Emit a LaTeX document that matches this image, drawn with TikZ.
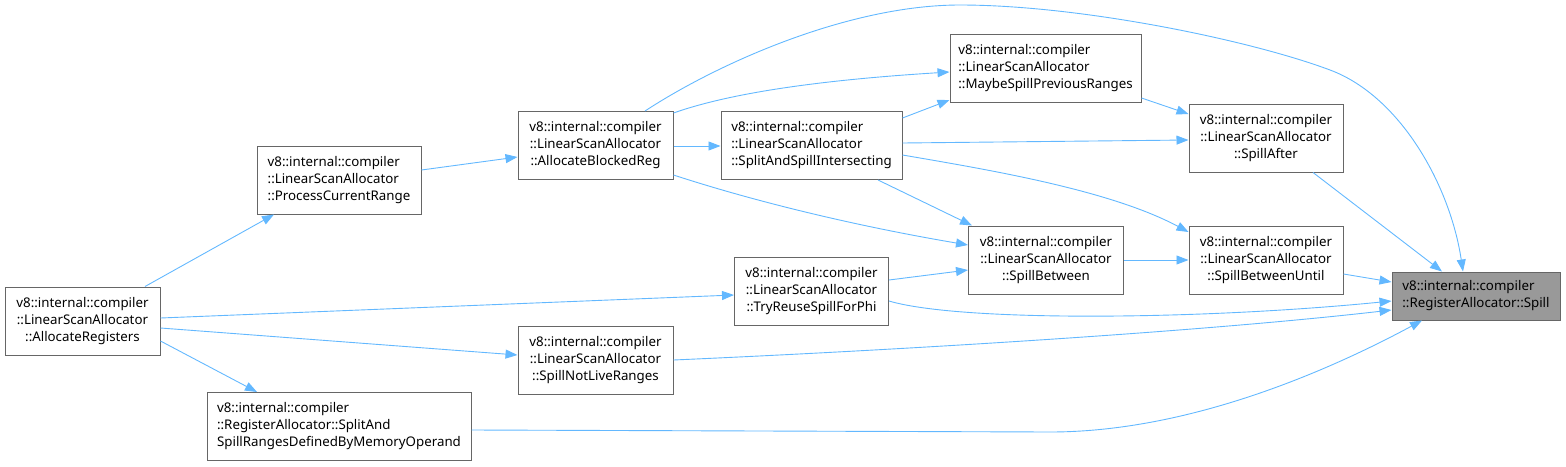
\documentclass[tikz,border=0pt]{standalone}
\usepackage{fontspec}
\setmainfont{Noto Sans}
\usetikzlibrary{arrows.meta}
\definecolor{bd}{HTML}{666666}
\definecolor{tg}{HTML}{999999}
\definecolor{ed}{HTML}{63B8FF}
\begin{document}
\begin{tikzpicture}[x=1pt,y=-1pt,
  box/.style={draw=bd,line width=1pt,fill=white,inner xsep=3pt,inner ysep=0pt,
    font=\fontsize{13.3}{17}\selectfont,text=black},
  edge/.style={draw=ed,line width=0.9pt,-{Triangle[length=12pt,width=9pt]}}]
\useasboundingbox (0,0) rectangle (1566,466);
% nodes
\node[box,fill=tg,align=left,minimum width=168,minimum height=48] (spill) at (1476,296) {v8::internal::compiler\\::RegisterAllocator::Spill};
\node[box,align=center,minimum width=154,minimum height=68] (sa) at (1266,138) {v8::internal::compiler\\::LinearScanAllocator\\::SpillAfter};
\node[box,align=center,minimum width=154,minimum height=68] (sbu) at (1266,260) {v8::internal::compiler\\::LinearScanAllocator\\::SpillBetweenUntil};
\node[box,align=left,minimum width=191,minimum height=68] (msp) at (1045.5,68) {v8::internal::compiler\\::LinearScanAllocator\\::MaybeSpillPreviousRanges};
\node[box,align=left,minimum width=181,minimum height=68] (sasi) at (811.5,145.5) {v8::internal::compiler\\::LinearScanAllocator\\::SplitAndSpillIntersecting};
\node[box,align=center,minimum width=155,minimum height=68] (sb) at (1046,260) {v8::internal::compiler\\::LinearScanAllocator\\::SpillBetween};
\node[box,align=center,minimum width=155,minimum height=68] (abr) at (595.5,145.5) {v8::internal::compiler\\::LinearScanAllocator\\::AllocateBlockedReg};
\node[box,align=center,minimum width=154,minimum height=68] (tr) at (811.5,291) {v8::internal::compiler\\::LinearScanAllocator\\::TryReuseSpillForPhi};
\node[box,align=left,minimum width=164,minimum height=68] (pcr) at (339,180) {v8::internal::compiler\\::LinearScanAllocator\\::ProcessCurrentRange};
\node[box,align=center,minimum width=155,minimum height=68] (ar) at (82.5,321) {v8::internal::compiler\\::LinearScanAllocator\\::AllocateRegisters};
\node[box,align=center,minimum width=155,minimum height=68] (snl) at (595.5,360) {v8::internal::compiler\\::LinearScanAllocator\\::SpillNotLiveRanges};
\node[box,align=left,minimum width=264,minimum height=68] (ssr) at (339,426.5) {v8::internal::compiler\\::RegisterAllocator::SplitAnd\\SpillRangesDefinedByMemoryOperand};
% edges into Spill
\draw[edge] (abr.north -| 645,0) .. controls (720,62) and (850,5) .. (960,5) .. controls (1080,5) and (1250,40) .. (1330,70) .. controls (1400,96) and (1450,185) .. (spill.north -| 1463,0);
\draw[edge] (sa.south -| 1313,0) -- (spill.north -| 1442,0);
\draw[edge] (sbu.east |- 0,274) -- (spill.west |- 0,282);
\draw[edge] (tr.east |- 0,301) .. controls (960,322) and (1200,320) .. (spill.west |- 0,301);
\draw[edge] (snl.east |- 0,360) .. controls (900,350) and (1200,332) .. (spill.west |- 0,310);
\draw[edge] (ssr.east |- 0,430) -- (1050,432) .. controls (1190,432) and (1330,370) .. (spill.south -| 1422,0);
% other edges
\draw[edge] (msp.east |- 0,98) -- (sa.west |- 0,114);
\draw[edge] (sasi.east |- 0,143) -- (sa.west |- 0,140);
\draw[edge] (sasi.east |- 0,155) .. controls (990,170) and (1110,190) .. (sbu.west |- 0,232);
\draw[edge] (sb.east |- 0,260) -- (sbu.west |- 0,260);
\draw[edge] (abr.east |- 0,113) .. controls (730,93) and (820,80) .. (msp.west |- 0,72);
\draw[edge] (sasi.east |- 0,118) -- (msp.west |- 0,100);
\draw[edge] (abr.east |- 0,146) -- (sasi.west |- 0,146);
\draw[edge] (sasi.south -| 878,0) -- (sb.north -| 972,0);
\draw[edge] (abr.east |- 0,175) .. controls (750,200) and (850,225) .. (sb.west |- 0,245);
\draw[edge] (tr.east |- 0,280) -- (sb.west |- 0,270);
\draw[edge] (pcr.east |- 0,170) -- (abr.west |- 0,157);
\draw[edge] (ar.north -| 145,0) -- (pcr.south -| 274,0);
\draw[edge] (ar.east |- 0,318) -- (tr.west |- 0,295);
\draw[edge] (ar.east |- 0,328) -- (snl.west |- 0,355);
\draw[edge] (ar.east |- 0,341) -- (ssr.north -| 257,0);
\end{tikzpicture}
\end{document}
